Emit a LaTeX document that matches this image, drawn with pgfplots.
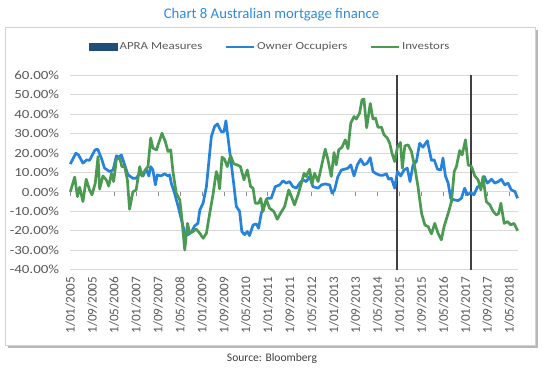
\documentclass[border=0pt]{standalone}
\usepackage{pgfplots}
\usepackage{pgfplotstable}
\pgfplotsset{compat=1.18}
\usepackage{fontspec}
\setmainfont{Carlito}
\newfontfamily\wide{Carlito}[FakeStretch=1.2]
\definecolor{oo}{HTML}{2683DC}
\definecolor{inv}{HTML}{4B9A51}
\definecolor{navy}{HTML}{1F4E79}
\definecolor{apra}{HTML}{404040}
\definecolor{ttl}{HTML}{2E8BDD}
\definecolor{lbl}{HTML}{595959}
\definecolor{gridc}{HTML}{D9D9D9}

\pgfplotstableread{
m v
0 14.3
2 19.9
3 19
4.6 14.8
6 16.5
7 16.2
9 21.6
10 22
11.3 17.4
12.5 12.2
14.3 10.5
15.6 11.3
16.8 18.6
17.6 17.8
18.6 19
19.8 14
21 8.8
22.8 7
24 7
25.3 9.6
26.5 8.2
27.7 11.7
28.6 8.2
29.3 13
30.1 11.3
31 3.6
31.7 8.8
33 8.2
34.4 9.3
35.6 8.2
36.2 8.8
36.8 4.5
38 -0.7
39.3 -7.5
40.5 -14.4
41.7 -21.3
42.9 -22
44.1 -20.8
45.3 -17.5
46.5 -16.2
47.2 -9.3
48.4 -5.8
49.6 2.7
50.8 20
51.4 28.5
52.6 33.7
53.6 35
55 31
56 31
56.7 36.6
57.4 28.5
58.4 17.4
59.6 3.6
60.5 -7.5
61.7 -10
62.5 -20.4
63.5 -22
64.5 -20.4
65.3 -22.5
66.6 -17
67.8 -16.5
68.6 -18.7
69.6 -11
70.6 -7.2
71.8 -3.3
73.2 -3.3
74.7 2.7
76.3 3.6
77.5 5.7
78.7 4.5
79.9 5.3
81.1 2.7
82.4 1.9
83.6 4.5
84.8 6.2
86 5.3
87.2 7.9
88.4 2.7
90.3 1.9
91.5 3.6
92.9 4.1
94.5 3.6
95.4 -0.7
96.3 1
97.5 7.9
98.8 11.3
100 11.7
101.2 12.2
102.2 13.9
103.4 8.2
104.6 13.9
105.8 16.8
107 13.9
108.2 14.8
109.3 17.6
110.3 10.5
111.5 9.3
112.8 8.6
114 8.6
115.2 9.3
116 6.5
117 7
118.2 1.9
119.2 10.5
120.4 8.2
121.6 11.3
122.8 12.2
123.8 5.3
124.9 13.9
126.1 15.6
127.3 25
128.5 23
130.1 26.3
131.6 16.2
132.6 16.5
133.8 11.7
135 11.3
135.8 17.4
136.7 8.2
137.7 4.5
138.6 -3.3
139.9 -4.1
141.3 -4.5
142.5 -3.3
143.7 1.9
144.7 -1.5
145.9 -0.3
147.1 -1.5
148.4 2.7
149.6 2.4
150.8 7.9
152 4.5
153.5 6.5
154.7 4.5
155.9 5.3
157.1 6.5
158.3 3.6
159.5 4.5
160.7 1
162 0.2
163 -3.3
}\oodata

\pgfplotstableread{
m v
0 0
1.6 7.6
2.6 -2.4
3.4 2.4
4.6 -5
5.8 6.5
7 1
7.9 -1.5
9.1 4.5
10.1 18.2
10.7 1.4
11.9 8.2
13.1 6.2
14 3
15 9.6
15.8 5.3
16.8 16.8
18 17.4
18.8 13
19.8 13
20.8 6.2
21.6 -8.9
22.8 0
24 1
25.3 13
26.1 8.2
27.3 11.3
28.3 13
29.3 27.7
30.1 22.5
31.4 21.6
32.6 26.8
33.4 30.2
34.6 26
35.6 20.8
36.6 21.6
37.4 10.5
38.6 -0.7
39.9 -4.1
40.7 -14.4
41.7 -29.9
42.7 -16.2
43.5 -21.3
44.7 -20.4
45.9 -19.2
47.2 -21.3
48.4 -23.9
49.6 -21.3
50.8 -11
52 -1.5
53.2 10.5
53.8 8
54.4 1.6
55.3 17.9
56.2 16.8
57.2 13
58.4 18.6
59.6 14.4
60.8 13.9
62 13
63.3 6.2
64.5 11.3
65.7 2.7
66.6 1.9
67.4 -5.8
68.6 -5.8
69.4 -3.3
70.2 -10.1
71.4 -3.8
72.6 -8.4
74.2 -10.1
75.4 -14.1
76.6 -11
78.1 -7.5
79.6 1
80.5 -2.1
81.7 -6.7
83 -1.5
84.2 4.5
85.2 9.6
86 7.9
87.2 11.7
88.1 4.1
89 9.6
90.3 5.3
91.5 13
92.9 22
93.9 16.5
95.1 7.9
96.1 20.3
96.9 13.9
97.8 21.6
99 23
100.2 26.8
101.2 22.2
102.2 35.4
103.4 38.8
104.2 37.5
105.4 40.5
106.3 47.4
107 47.8
108 33
109.3 45.5
110.3 37.5
111.2 38
112.1 33.3
113.4 33.3
114.3 29.4
115.5 27.7
116.4 25
117.2 20
118.2 15.6
119.2 23
120.3 25.4
121 12.2
121.9 23.7
123.1 24.2
124.3 20.8
125.5 13
126.7 2.7
128 -11
129.2 -17
130.4 -17.9
131.6 -21.6
132.8 -16.2
134 -21.3
135.2 -24.7
136.2 -17.9
137.7 -11
138.9 -5
139.9 10.5
140.7 13
141.9 21.3
142.8 19
144 26.8
145 13.9
146.2 13
147.4 8.2
148.6 6.2
149.6 1
150.4 7.9
151.6 -5
152.9 -6.7
154.1 -10.1
155.3 -11.9
156.1 -11
156.9 -5.8
158.1 -16.2
159.3 -15.3
160.5 -17
161.7 -16.2
163 -20
}\invdata

\begin{document}
\begin{tikzpicture}
\begin{scope}[x=1bp,y=1bp]
\useasboundingbox (0,0) rectangle (543,370);
\fill[black!28] (7.5,22.5) rectangle (537.5,340.5);
\filldraw[fill=white,draw=black!18,line width=0.8bp] (5,25) rectangle (535,343);
\node[text=ttl, font=\fontsize{14.8}{16}\selectfont] at (271.5,355.5) {Chart 8 Australian mortgage finance};
\node[text=black!75, font=\fontsize{11.6}{13}\selectfont] at (272,12) {Source: Bloomberg};
\end{scope}
\begin{axis}[
  at={(70.3bp,100.4bp)}, anchor=south west,
  scale only axis, width=447.3bp, height=194.3bp,
  xmin=0, xmax=163, ymin=-40, ymax=60,
  axis line style={draw=none},
  major tick length=0pt,
  ytick={-40,-30,...,60},
  yticklabels={-40.00\%,-30.00\%,-20.00\%,-10.00\%,0.00\%,10.00\%,20.00\%,30.00\%,40.00\%,50.00\%,60.00\%},
  ymajorgrids, grid style={gridc, line width=0.8bp},
  yticklabel style={font=\wide\fontsize{12.5}{13}\selectfont, text=lbl, inner sep=0pt, xshift=-11bp},
  xtick={0,8,...,160},
  xticklabels={1/01/2005,1/09/2005,1/05/2006,1/01/2007,1/09/2007,1/05/2008,1/01/2009,1/09/2009,1/05/2010,1/01/2011,1/09/2011,1/05/2012,1/01/2013,1/09/2013,1/05/2014,1/01/2015,1/09/2015,1/05/2016,1/01/2017,1/09/2017,1/05/2018},
  xticklabel style={font=\fontsize{13.2}{14}\selectfont, text=lbl, inner sep=0pt, yshift=-7bp, rotate=90, anchor=east},
  legend style={at={(0.447,1.1456)}, anchor=center, draw=none, fill=none, legend columns=3,
    font=\wide\fontsize{10.8}{12}\selectfont, text=lbl,
    /tikz/every even column/.append style={column sep=20bp}},
  legend image code/.code={\draw[#1, line width=2.8bp] (0bp,0bp) -- (28bp,0bp);},
  clip=false,
]
\pgfplotsinvokeforeach{0,1,...,20}{\draw[black!45, line width=0.8bp] (axis cs:#1*8,0) -- ([yshift=-4bp]axis cs:#1*8,0);}
\addlegendimage{legend image code/.code={\fill[navy] (0bp,-3.5bp) rectangle (28bp,3.5bp);}}
\addlegendentry{APRA Measures}
\addplot[apra, line width=2bp, forget plot] coordinates {(119,-40) (119,60)};
\addplot[apra, line width=2bp, forget plot] coordinates {(146,-40) (146,60)};
\addplot[oo, line width=2.7bp, line join=round] table[x=m,y=v] {\oodata};
\addlegendentry{Owner Occupiers}
\addplot[inv, line width=2.7bp, line join=round] table[x=m,y=v] {\invdata};
\addlegendentry{Investors}
\end{axis}
\end{tikzpicture}
\end{document}
